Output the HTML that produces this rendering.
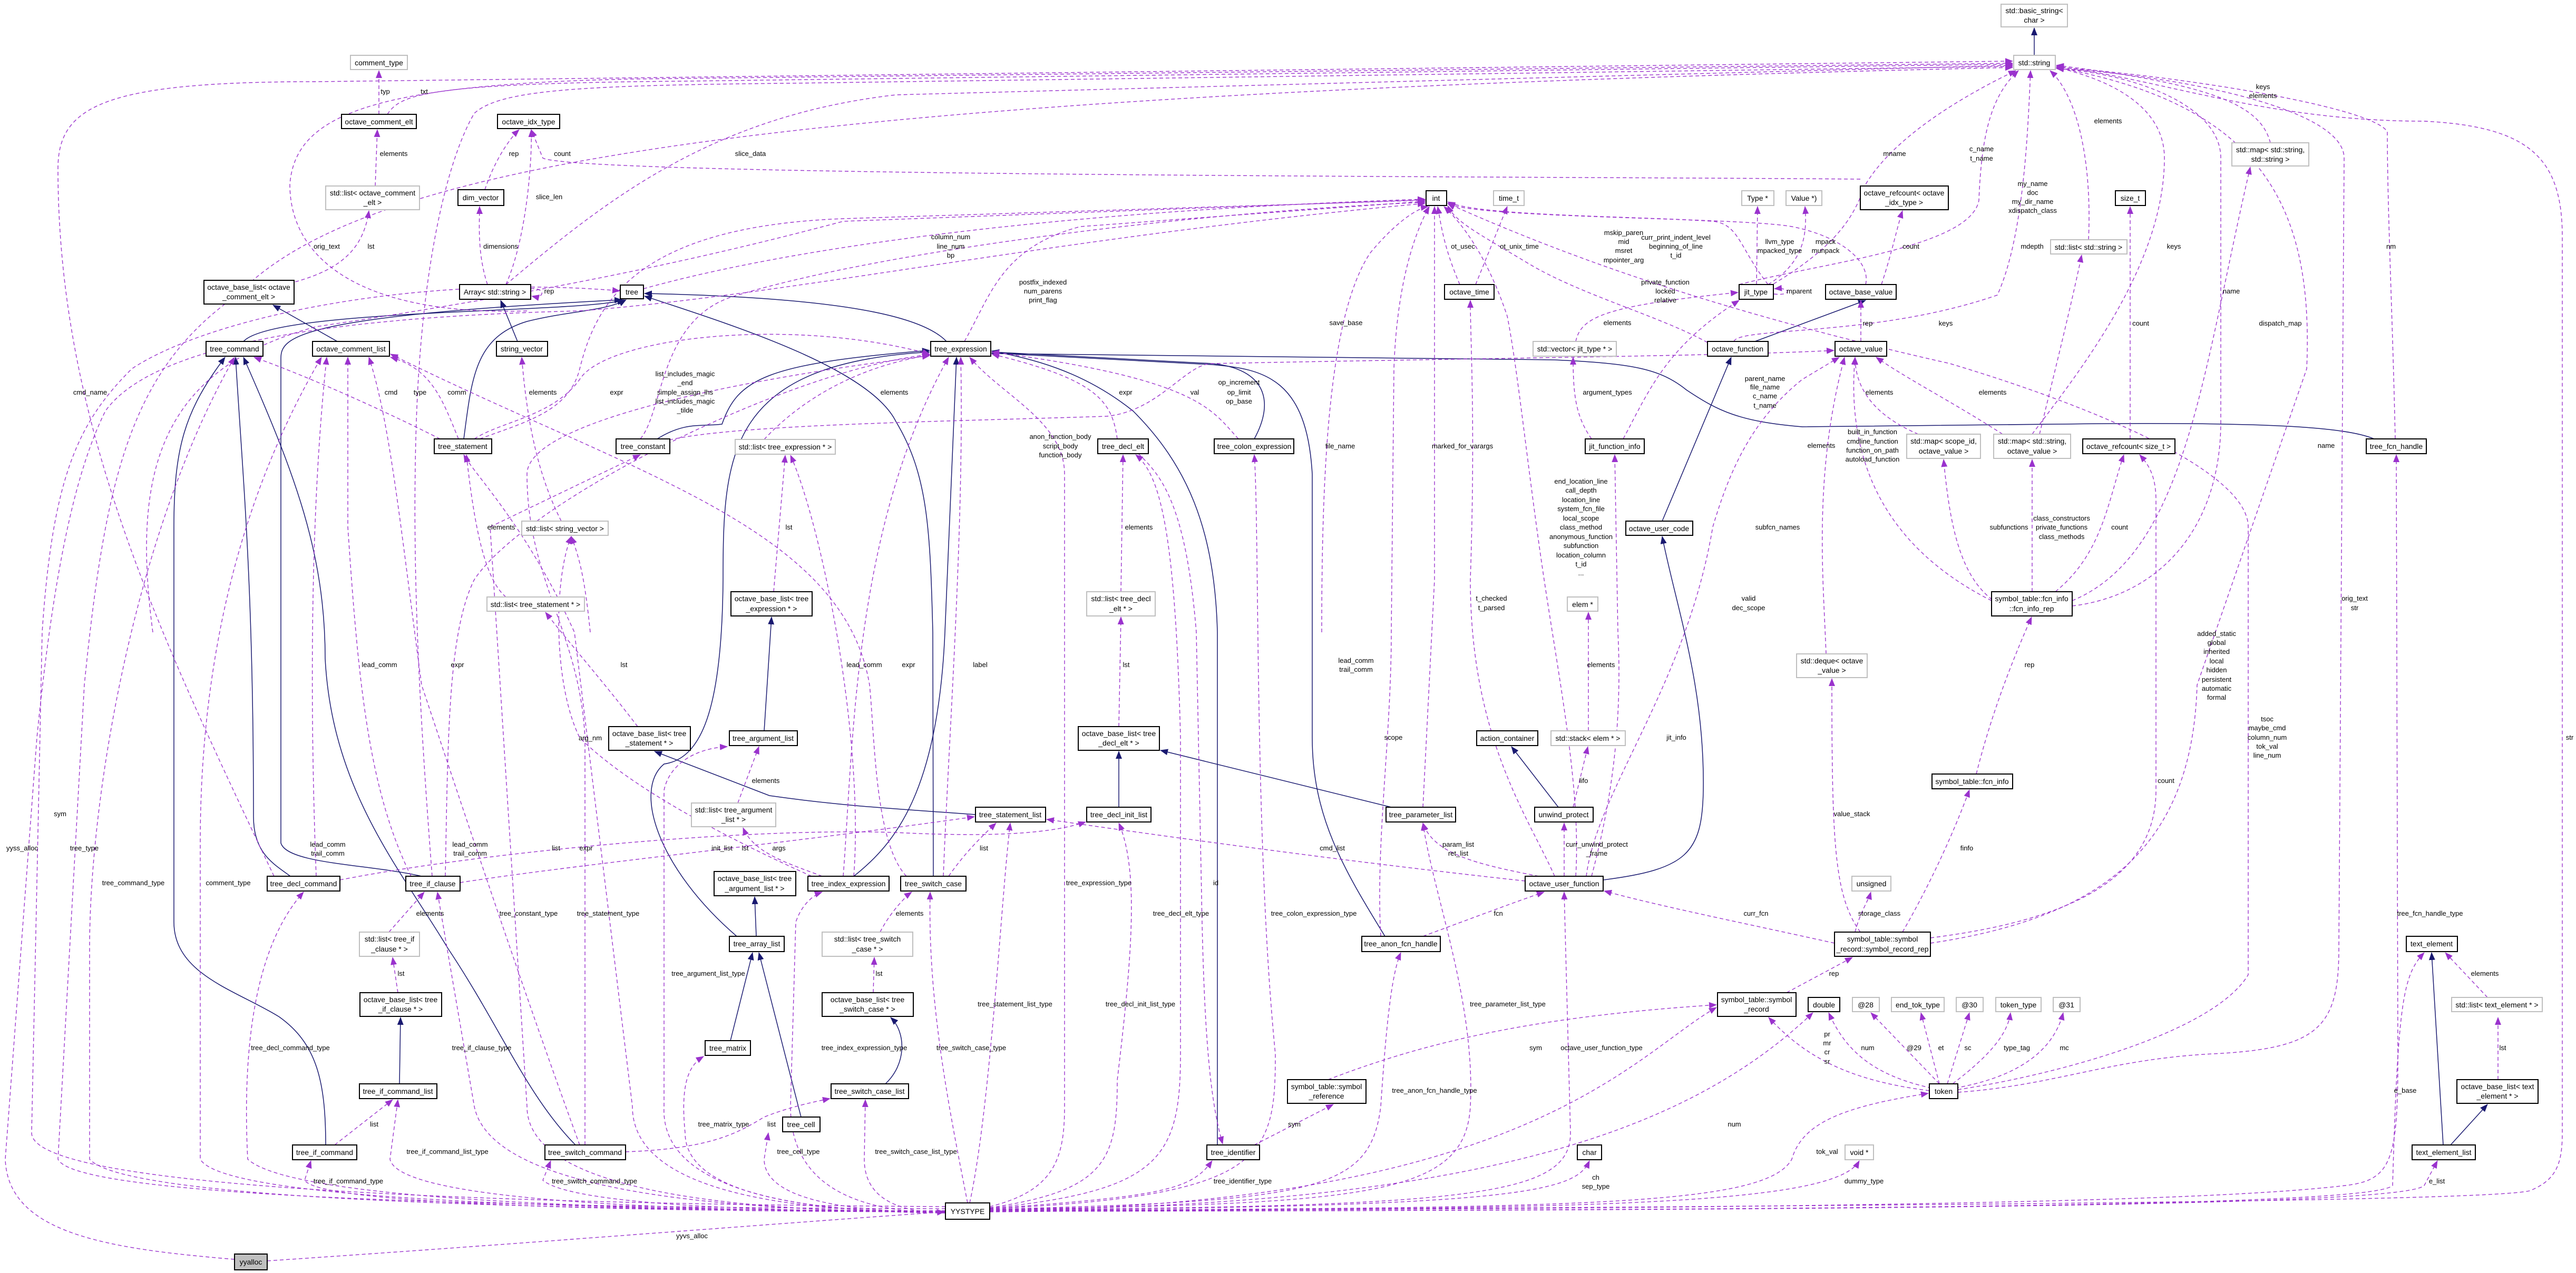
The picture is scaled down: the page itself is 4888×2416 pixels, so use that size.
<!DOCTYPE html>
<html><head><meta charset="utf-8"><style>
html,body{margin:0;padding:0;background:#fff;}
svg{display:block;}
text{font-family:"Liberation Sans",sans-serif;font-size:14px;fill:#000;}
.l{font-size:13px;}
.n{fill:#fff;stroke:#000;stroke-width:2;}
.g{fill:#fff;stroke:#bfbfbf;stroke-width:2;}
.y{fill:#bfbfbf;stroke:#000;stroke-width:2;}
.d{fill:none;stroke:#9a32cd;stroke-width:1.4;stroke-dasharray:7,5;}
.s{fill:none;stroke:#191970;stroke-width:1.5;}
</style></head><body>
<svg width="4888" height="2416" viewBox="0 0 4888 2416" xmlns="http://www.w3.org/2000/svg">
<defs>
<marker id="ap" markerUnits="userSpaceOnUse" markerWidth="16" markerHeight="12" refX="14" refY="6" orient="auto"><path d="M0,0 L15,6 L0,12 z" fill="#9a32cd"/></marker>
<marker id="an" markerUnits="userSpaceOnUse" markerWidth="16" markerHeight="12" refX="14" refY="6" orient="auto"><path d="M0,0 L15,6 L0,12 z" fill="#191970"/></marker>
</defs>

<!-- solid inheritance edges -->
<g class="s" marker-end="url(#an)">
<path d="M3860 105 L3860 53"/>
<path d="M462 648 C520 585 1100 595 1185 569"/>
<path d="M880 833 C895 720 900 640 1000 610 C1080 590 1150 590 1188 569"/>
<path d="M1796 648 C1750 600 1600 565 1223 557"/>
<path d="M1247 833 C1300 800 1330 810 1370 805 C1400 720 1450 690 1764 665"/>
<path d="M640 648 L518 579"/>
<path d="M982 648 L950 570"/>
<path d="M551 1663 C520 1640 481 1620 481 1550 C481 1100 460 900 447 678"/>
<path d="M618 2173 C618 2050 600 1980 530 1930 C450 1880 330 1850 330 1750 L330 1000 C330 850 350 780 427 678"/>
<path d="M1092 2173 C1000 2080 950 1950 850 1800 C760 1650 630 1500 617 1250 C617 1050 560 900 462 678"/>
<path d="M800 1663 C700 1640 545 1640 533 1600 L533 680 C533 640 560 600 1180 569"/>
<path d="M1851 1546 C1700 1535 1600 1530 1460 1510 L1242 1426"/>
<path d="M1450 1387 L1464 1171"/>
<path d="M1435 1777 L1432 1702"/>
<path d="M1386 1975 L1428 1808"/>
<path d="M1520 2120 L1440 1808"/>
<path d="M1398 1777 C1250 1650 1200 1500 1260 1450 C1330 1440 1370 1350 1372 1100 C1372 860 1380 690 1764 668"/>
<path d="M758 2057 L760 1931"/>
<path d="M1680 2057 C1720 2020 1720 1960 1690 1931"/>
<path d="M2123 1532 L2123 1426"/>
<path d="M2640 1532 L2202 1424"/>
<path d="M2957 1532 L2868 1417"/>
<path d="M1771 1663 L1770 1200 C1765 1000 1760 900 1700 800 C1650 700 1400 620 1223 562"/>
<path d="M1620 1663 C1700 1600 1780 1500 1793 1200 L1815 678"/>
<path d="M2310 2173 L2310 1200 C2305 1000 2250 880 2150 780 C2050 700 1950 680 1882 666"/>
<path d="M2380 833 C2420 760 2400 700 2300 690 L1882 668"/>
<path d="M2628 1777 C2550 1650 2490 1550 2490 1400 L2490 900 C2480 720 2400 700 2300 692 L1882 670"/>
<path d="M4505 833 C4450 810 4300 800 3900 805 L3420 810 C3300 800 3260 780 3200 740 C3150 700 3100 690 2950 683 L1882 671"/>
<path d="M3330 648 L3540 570"/>
<path d="M3154 989 L3285 678"/>
<path d="M3042 1670 C3200 1650 3230 1620 3232 1500 C3235 1300 3180 1150 3154 1018"/>
<path d="M4636 2173 L4614 1808"/>
<path d="M4650 2173 L4720 2096"/>
</g>

<!-- dashed collaboration edges -->
<g class="d" marker-end="url(#ap)">
<path d="M719 217 L719 134"/>
<path d="M735 217 C760 180 800 158 1300 154 L3819 122"/>
<path d="M712 353 L716 246"/>
<path d="M560 535 C650 510 690 470 700 400"/>
<path d="M1000 590 C700 600 550 500 550 350 C560 220 700 160 1200 150 L3819 120"/>
<path d="M920 360 C940 300 970 260 985 246"/>
<path d="M3530 340 C3000 335 1100 335 1030 300 L1008 246"/>
<path d="M960 540 C1000 450 1010 300 1008 246"/>
<path d="M925 540 C905 480 910 420 910 392"/>
<path d="M1007 548 C1035 545 1035 568 1009 562"/>
<path d="M960 540 C1150 380 1350 220 1700 180 L3819 124"/>
<path d="M520 1663 C300 1200 110 800 110 320 C110 200 200 155 600 155 L3819 116"/>
<path d="M820 1663 C800 1400 780 1100 790 800 C800 500 850 300 900 215 C950 170 1100 162 1500 158 L3819 126"/>
<path d="M3856 824 C3950 700 4107 500 4107 300 C4107 200 4000 150 3902 128"/>
<path d="M3932 1150 C4100 1130 4214 1000 4214 800 L4214 300 C4214 200 4050 140 3902 130"/>
<path d="M3715 2073 C3900 2060 4000 2010 4200 2000 C4400 1990 4438 1950 4438 1800 L4448 300 C4448 200 4100 140 3902 130"/>
<path d="M3715 2068 C3900 2040 4200 1960 4266 1850 L4266 1000 C4266 900 4000 780 3700 690 C3300 600 3000 500 2747 386"/>
<path d="M3663 1790 C4000 1740 4160 1600 4169 1300 L4377 700 C4390 400 4300 200 3902 128"/>
<path d="M4545 833 C4540 600 4530 400 4530 250 C4500 200 4100 140 3902 128"/>
<path d="M1878 2300 C3000 2290 4700 2285 4800 2260 C4850 2240 4862 2210 4862 2150 L4862 450 C4862 300 4800 240 4600 230 C4300 230 4100 150 3902 126"/>
<path d="M4308 271 C4290 200 4200 160 3902 124"/>
<path d="M3963 455 C3970 300 3940 180 3890 134"/>
<path d="M3300 540 C3450 500 3740 470 3755 380 C3760 250 3780 180 3830 134"/>
<path d="M3290 648 C3300 620 3560 640 3790 560 C3840 450 3848 250 3853 134"/>
<path d="M3355 545 C3500 460 3520 400 3540 350 C3600 250 3750 170 3825 134"/>
<path d="M1221 548 C1500 470 2000 400 2704 378"/>
<path d="M1830 648 C1880 560 1900 470 2050 430 L2704 382"/>
<path d="M910 833 C1000 800 1080 780 1100 700 C1130 580 1200 430 1600 415 L2704 380"/>
<path d="M1215 833 C1260 780 1250 600 1400 560 C1700 470 2300 400 2704 384"/>
<path d="M290 1200 C250 900 300 700 600 620 C1000 560 1300 500 1600 420 L2704 379"/>
<path d="M2508 1200 C2508 900 2520 600 2600 480 C2650 420 2690 395 2710 392"/>
<path d="M2700 1532 L2722 1100 L2722 392"/>
<path d="M2620 1777 C2610 1600 2640 1400 2640 1200 L2645 700 C2650 550 2680 450 2712 392"/>
<path d="M2770 540 C2740 470 2735 430 2728 392"/>
<path d="M2800 540 L2860 392"/>
<path d="M2950 1663 C2900 1550 2790 1400 2790 1100 C2800 800 2790 650 2790 570"/>
<path d="M3020 833 C2990 790 2985 750 2985 678"/>
<path d="M3080 833 C3130 740 3160 660 3300 570"/>
<path d="M3020 1663 C3050 1550 3080 1400 3070 1200 L3064 863"/>
<path d="M2990 648 C3000 600 3050 580 3298 555"/>
<path d="M3355 540 C3300 470 3300 425 3250 420 C3100 410 2800 410 2747 383"/>
<path d="M3540 540 C3550 500 3500 450 3400 430 C3300 412 2800 415 2747 386"/>
<path d="M3240 650 C3150 600 3000 560 2900 500 C2800 440 2760 420 2747 390"/>
<path d="M2990 1663 C3000 1500 2960 1300 2930 1100 C2900 900 2880 700 2860 600 C2820 480 2770 420 2740 392"/>
<path d="M3014 1387 L3014 1162"/>
<path d="M2985 1532 L3013 1417"/>
<path d="M2968 1663 L2968 1562"/>
<path d="M2920 1663 C2800 1640 2720 1620 2700 1562"/>
<path d="M2894 1672 C2600 1640 2300 1600 1986 1555"/>
<path d="M2700 1777 C2800 1740 2880 1710 2930 1693"/>
<path d="M3481 1790 C3300 1750 3150 1720 3044 1691"/>
<path d="M3520 1769 C3530 1730 3545 1710 3550 1693"/>
<path d="M3530 1769 C3480 1700 3476 1600 3476 1288"/>
<path d="M3610 1769 C3650 1700 3700 1600 3737 1499"/>
<path d="M3750 1469 C3780 1350 3820 1250 3855 1171"/>
<path d="M3390 1884 L3515 1817"/>
<path d="M2520 2049 C2700 1980 2900 1930 3257 1907"/>
<path d="M2380 2173 L2530 2096"/>
<path d="M3665 2065 C3550 2040 3500 1990 3470 1922"/>
<path d="M3680 2057 L3550 1922"/>
<path d="M3680 2057 L3645 1922"/>
<path d="M3695 2057 L3737 1922"/>
<path d="M3705 2057 C3780 2000 3810 1960 3815 1922"/>
<path d="M3710 2065 C3850 2040 3900 1980 3915 1922"/>
<path d="M3661 2070 C3500 2050 3420 2000 3356 1931"/>
<path d="M4720 1893 L4640 1808"/>
<path d="M4740 2049 L4740 1931"/>
<path d="M3790 1145 C3720 1100 3700 1000 3688 872"/>
<path d="M3856 1123 L3856 872"/>
<path d="M3900 1123 C3990 1050 4000 950 4030 863"/>
<path d="M3779 1140 C3600 1050 3500 900 3520 678"/>
<path d="M4042 833 L4042 392"/>
<path d="M3932 1140 C4150 1050 4180 700 4270 317"/>
<path d="M3640 824 C3560 790 3520 740 3520 678"/>
<path d="M3800 824 C3700 760 3620 720 3560 678"/>
<path d="M3870 824 C3900 700 3930 580 3950 484"/>
<path d="M3531 648 L3531 570"/>
<path d="M3570 540 C3590 480 3600 430 3610 400"/>
<path d="M3333 540 L3335 392"/>
<path d="M3355 540 C3420 500 3430 450 3425 392"/>
<path d="M3366 558 C3400 562 3400 545 3367 548"/>
<path d="M3465 1241 C3460 1100 3440 900 3500 678"/>
<path d="M3663 1780 C3900 1750 4091 1680 4091 1500 L4091 950 C4091 900 4075 880 4060 863"/>
<path d="M3010 1663 C3030 1500 3200 1300 3250 1000 C3280 900 3320 800 3420 720 L3490 678"/>
<path d="M835 833 C750 790 600 720 482 678"/>
<path d="M870 833 C840 760 820 700 741 678"/>
<path d="M900 833 C950 800 1050 790 1100 720 C1150 640 1500 600 1764 672"/>
<path d="M1065 989 C1020 900 1000 800 990 678"/>
<path d="M1120 1200 C1110 1100 1100 1060 1084 1018"/>
<path d="M960 1133 C920 1100 900 1000 885 863"/>
<path d="M1210 1379 C1150 1300 1080 1220 1035 1162"/>
<path d="M1450 834 C1500 780 1600 700 1764 674"/>
<path d="M1468 1123 L1490 864"/>
<path d="M780 1663 C700 1500 680 1300 660 1000 L660 678"/>
<path d="M600 1663 C590 1400 585 1000 620 678"/>
<path d="M1100 2173 C1000 1900 900 1600 800 1300 C760 1000 740 800 700 678"/>
<path d="M738 1769 L805 1693"/>
<path d="M755 1884 L745 1817"/>
<path d="M635 2173 L745 2087"/>
<path d="M845 1663 C850 1400 850 1200 900 1100 C1000 950 1500 700 1764 673"/>
<path d="M1187 2186 C1350 2180 1400 2150 1450 2120 C1500 2100 1550 2090 1575 2085"/>
<path d="M1110 2173 L1110 1400 C1100 1200 1000 1100 1000 900 C1000 800 1400 720 1764 675"/>
<path d="M1800 1663 C1830 1620 1860 1590 1890 1562"/>
<path d="M1790 1663 C1800 1400 1830 1000 1823 678"/>
<path d="M1720 1663 C1660 1600 1660 1400 1650 1300 C1600 1000 1200 900 741 672"/>
<path d="M1670 1769 C1690 1730 1720 1700 1730 1693"/>
<path d="M1657 1884 L1659 1817"/>
<path d="M1560 1663 C1500 1640 1430 1620 1410 1571"/>
<path d="M1540 1663 C1400 1600 1200 1500 1100 1400 C1050 1300 1050 1100 1084 1018"/>
<path d="M1600 1663 C1620 1400 1620 1000 1800 678"/>
<path d="M1620 1663 C1640 1400 1560 1000 1500 864"/>
<path d="M1400 1524 L1440 1417"/>
<path d="M873 1675 C1100 1640 1500 1600 1849 1550"/>
<path d="M645 1670 C900 1620 1400 1570 1700 1580 C1900 1590 2000 1580 2060 1560"/>
<path d="M2127 1123 L2131 863"/>
<path d="M2123 1379 L2127 1171"/>
<path d="M2120 833 C2110 760 2080 720 1882 672"/>
<path d="M2160 861 C2200 900 2250 950 2270 1200 L2280 1700 C2285 2000 2300 2100 2320 2171"/>
<path d="M2350 833 C2300 780 2280 720 1882 668"/>
<path d="M1270 835 C1400 805 1800 800 2100 790 C2200 780 2250 690 2300 690 C2800 680 3300 675 3480 665"/>
<path d="M445 2390 C200 2370 15 2340 10 2200 L70 1400 C100 1100 140 900 200 780 C300 640 700 600 1100 590 C1500 560 2000 450 2704 386"/>
<path d="M507 2393 C1000 2360 1500 2320 1792 2300"/>
<path d="M1794 2294 Q150 2290 110 2200 L160 1300 C200 900 250 700 450 560 C700 300 1500 180 3819 128"/>
<path d="M1794 2290 Q60 2280 60 2150 L80 1200 C100 900 150 800 250 700 C400 600 800 520 1176 552"/>
<!-- YYSTYPE bundle -->
<path d="M1794 2298 Q253 2296 170 2200 L170 1800 C170 1500 260 1000 445 678"/>
<path d="M1794 2298 Q433 2296 380 2200 L380 1600 C380 1200 480 900 610 678"/>
<path d="M1794 2299 Q576 2297 470 2200 C460 2000 480 1800 576 1693"/>
<path d="M1794 2300 Q616 2298 578 2240 L590 2203"/>
<path d="M1794 2300 Q760 2298 740 2200 L755 2087"/>
<path d="M1794 2300 Q940 2298 900 2100 L830 1693"/>
<path d="M1794 2300 Q1100 2298 1030 2240 L1045 2203"/>
<path d="M1794 2301 Q1000 2299 1000 2100 L930 1000 L1215 863"/>
<path d="M1794 2301 Q1200 2299 1200 2100 L1090 1200 C1000 1000 900 900 880 863"/>
<path d="M1794 2301 Q1300 2299 1300 2150 C1290 2050 1310 2020 1335 2005"/>
<path d="M1794 2301 Q1450 2299 1450 2200 L1458 2150"/>
<path d="M1794 2302 Q1250 2300 1260 2100 L1260 1500 C1270 1450 1320 1420 1380 1417"/>
<path d="M1794 2302 Q1500 2300 1500 2100 L1510 1750 C1520 1720 1540 1700 1560 1693"/>
<path d="M1794 2302 Q1640 2300 1640 2200 L1642 2087"/>
<path d="M1836 2283 C1800 2100 1760 1900 1765 1693"/>
<path d="M1840 2283 C1880 2100 1900 1700 1917 1562"/>
<path d="M1878 2290 C2000 2260 2020 2200 2020 2100 L2020 900 C2020 800 1900 750 1840 678"/>
<path d="M1878 2292 C2100 2260 2120 2200 2120 2050 C2150 1800 2160 1650 2123 1562"/>
<path d="M1878 2293 C2200 2260 2240 2200 2240 2000 L2240 1400 C2230 1000 2200 900 2155 863"/>
<path d="M1878 2294 C2200 2270 2260 2260 2300 2203"/>
<path d="M1878 2294 C2400 2270 2420 2200 2420 2000 C2380 1600 2390 1000 2380 863"/>
<path d="M1878 2295 C2500 2280 2600 2260 2620 2100 C2630 1950 2640 1850 2658 1808"/>
<path d="M1878 2295 C2600 2285 2780 2270 2790 2100 C2800 1900 2720 1700 2700 1562"/>
<path d="M1878 2296 C2800 2290 2980 2270 2980 2150 L2968 1693"/>
<path d="M1878 2296 C2900 2292 2990 2260 3016 2203"/>
<path d="M1878 2296 C2800 2290 3200 2150 3440 1922"/>
<path d="M1878 2297 C2900 2290 3100 2000 3257 1912"/>
<path d="M1878 2297 C3000 2293 3350 2290 3400 2200 C3420 2130 3500 2100 3659 2075"/>
<path d="M1878 2298 C3000 2295 3480 2290 3528 2203"/>
<path d="M1878 2298 C3500 2294 4200 2280 4450 2250 C4540 2240 4550 2200 4550 2000 L4547 863"/>
<path d="M1878 2299 C3500 2296 4500 2290 4540 2250 C4550 1900 4560 1850 4600 1808"/>
<path d="M1878 2299 C3500 2297 4560 2290 4600 2250 L4625 2203"/>
</g>

<!-- nodes -->
<g>
<rect class="g" x="665" y="105" width="108" height="27"/><text x="719" y="124" text-anchor="middle">comment_type</text>
<rect class="n" x="648" y="217" width="142" height="27"/><text x="719" y="236" text-anchor="middle">octave_comment_elt</text>
<rect class="g" x="618" y="353" width="178" height="45"/><text x="707" y="371" text-anchor="middle">std::list&lt; octave_comment</text><text x="707" y="389" text-anchor="middle">_elt &gt;</text>
<rect class="n" x="944" y="217" width="118" height="27"/><text x="1003" y="236" text-anchor="middle">octave_idx_type</text>
<rect class="n" x="869" y="360" width="87" height="30"/><text x="912" y="380" text-anchor="middle">dim_vector</text>
<rect class="n" x="387" y="532" width="171" height="45"/><text x="472" y="550" text-anchor="middle">octave_base_list&lt; octave</text><text x="472" y="568" text-anchor="middle">_comment_elt &gt;</text>
<rect class="n" x="872" y="540" width="135" height="28"/><text x="939" y="559" text-anchor="middle">Array&lt; std::string &gt;</text>
<rect class="n" x="1177" y="541" width="44" height="26"/><text x="1199" y="559" text-anchor="middle">tree</text>
<rect class="n" x="391" y="648" width="108" height="28"/><text x="445" y="667" text-anchor="middle">tree_command</text>
<rect class="n" x="593" y="648" width="146" height="28"/><text x="666" y="667" text-anchor="middle">octave_comment_list</text>
<rect class="n" x="942" y="648" width="97" height="28"/><text x="990" y="667" text-anchor="middle">string_vector</text>
<rect class="n" x="824" y="833" width="109" height="28"/><text x="878" y="852" text-anchor="middle">tree_statement</text>
<rect class="n" x="1169" y="833" width="102" height="28"/><text x="1220" y="852" text-anchor="middle">tree_constant</text>
<rect class="g" x="1395" y="834" width="190" height="28"/><text x="1490" y="853" text-anchor="middle">std::list&lt; tree_expression * &gt;</text>
<rect class="g" x="990" y="989" width="164" height="27"/><text x="1072" y="1008" text-anchor="middle">std::list&lt; string_vector &gt;</text>
<rect class="g" x="924" y="1133" width="185" height="27"/><text x="1016" y="1152" text-anchor="middle">std::list&lt; tree_statement * &gt;</text>
<rect class="n" x="1387" y="1123" width="154" height="46"/><text x="1464" y="1141" text-anchor="middle">octave_base_list&lt; tree</text><text x="1464" y="1160" text-anchor="middle">_expression * &gt;</text>

<rect class="n" x="2706" y="362" width="39" height="28"/><text x="2725" y="381" text-anchor="middle">int</text>
<rect class="g" x="2834" y="362" width="58" height="28"/><text x="2863" y="381" text-anchor="middle">time_t</text>
<rect class="n" x="2741" y="540" width="94" height="28"/><text x="2788" y="559" text-anchor="middle">octave_time</text>
<rect class="n" x="1766" y="648" width="114" height="28"/><text x="1823" y="667" text-anchor="middle">tree_expression</text>
<rect class="g" x="2909" y="648" width="158" height="28"/><text x="2988" y="667" text-anchor="middle">std::vector&lt; jit_type * &gt;</text>
<rect class="n" x="2083" y="833" width="96" height="28"/><text x="2131" y="852" text-anchor="middle">tree_decl_elt</text>
<rect class="n" x="2304" y="833" width="151" height="28"/><text x="2380" y="852" text-anchor="middle">tree_colon_expression</text>
<rect class="n" x="3008" y="833" width="112" height="28"/><text x="3064" y="852" text-anchor="middle">jit_function_info</text>
<rect class="n" x="3085" y="989" width="127" height="27"/><text x="3148" y="1008" text-anchor="middle">octave_user_code</text>
<rect class="g" x="2062" y="1123" width="130" height="46"/><text x="2127" y="1141" text-anchor="middle">std::list&lt; tree_decl</text><text x="2127" y="1160" text-anchor="middle">_elt * &gt;</text>
<rect class="g" x="2974" y="1133" width="58" height="27"/><text x="3003" y="1152" text-anchor="middle">elem *</text>

<rect class="g" x="3797" y="8" width="126" height="43"/><text x="3860" y="25" text-anchor="middle">std::basic_string&lt;</text><text x="3860" y="43" text-anchor="middle">char &gt;</text>
<rect class="g" x="3821" y="105" width="79" height="27"/><text x="3860" y="124" text-anchor="middle">std::string</text>
<rect class="g" x="3305" y="362" width="61" height="28"/><text x="3335" y="381" text-anchor="middle">Type *</text>
<rect class="g" x="3389" y="362" width="68" height="28"/><text x="3423" y="381" text-anchor="middle">Value *)</text>
<rect class="n" x="3530" y="353" width="167" height="45"/><text x="3613" y="371" text-anchor="middle">octave_refcount&lt; octave</text><text x="3613" y="389" text-anchor="middle">_idx_type &gt;</text>
<rect class="n" x="4014" y="362" width="57" height="28"/><text x="4042" y="381" text-anchor="middle">size_t</text>
<rect class="g" x="4235" y="271" width="146" height="44"/><text x="4308" y="289" text-anchor="middle">std::map&lt; std::string,</text><text x="4308" y="307" text-anchor="middle">std::string &gt;</text>
<rect class="g" x="3891" y="455" width="145" height="27"/><text x="3963" y="474" text-anchor="middle">std::list&lt; std::string &gt;</text>
<rect class="n" x="3300" y="540" width="65" height="28"/><text x="3332" y="559" text-anchor="middle">jit_type</text>
<rect class="n" x="3464" y="540" width="134" height="28"/><text x="3531" y="559" text-anchor="middle">octave_base_value</text>
<rect class="n" x="3240" y="648" width="115" height="28"/><text x="3297" y="667" text-anchor="middle">octave_function</text>
<rect class="n" x="3482" y="648" width="98" height="28"/><text x="3531" y="667" text-anchor="middle">octave_value</text>
<rect class="g" x="3618" y="824" width="140" height="46"/><text x="3688" y="842" text-anchor="middle">std::map&lt; scope_id,</text><text x="3688" y="861" text-anchor="middle">octave_value &gt;</text>
<rect class="g" x="3783" y="824" width="146" height="46"/><text x="3856" y="842" text-anchor="middle">std::map&lt; std::string,</text><text x="3856" y="861" text-anchor="middle">octave_value &gt;</text>
<rect class="n" x="3952" y="833" width="175" height="28"/><text x="4039" y="852" text-anchor="middle">octave_refcount&lt; size_t &gt;</text>
<rect class="n" x="4490" y="833" width="114" height="28"/><text x="4547" y="852" text-anchor="middle">tree_fcn_handle</text>
<rect class="n" x="3779" y="1123" width="153" height="46"/><text x="3855" y="1141" text-anchor="middle">symbol_table::fcn_info</text><text x="3855" y="1160" text-anchor="middle">::fcn_info_rep</text>

<rect class="n" x="1155" y="1379" width="155" height="45"/><text x="1232" y="1397" text-anchor="middle">octave_base_list&lt; tree</text><text x="1232" y="1415" text-anchor="middle">_statement * &gt;</text>
<rect class="n" x="1384" y="1387" width="129" height="28"/><text x="1448" y="1406" text-anchor="middle">tree_argument_list</text>
<rect class="g" x="1312" y="1524" width="160" height="45"/><text x="1392" y="1542" text-anchor="middle">std::list&lt; tree_argument</text><text x="1392" y="1560" text-anchor="middle">_list * &gt;</text>
<rect class="n" x="507" y="1663" width="138" height="28"/><text x="576" y="1682" text-anchor="middle">tree_decl_command</text>
<rect class="n" x="770" y="1663" width="103" height="28"/><text x="821" y="1682" text-anchor="middle">tree_if_clause</text>
<rect class="n" x="1355" y="1654" width="155" height="46"/><text x="1432" y="1672" text-anchor="middle">octave_base_list&lt; tree</text><text x="1432" y="1691" text-anchor="middle">_argument_list * &gt;</text>
<rect class="n" x="1533" y="1663" width="154" height="28"/><text x="1610" y="1682" text-anchor="middle">tree_index_expression</text>
<rect class="g" x="682" y="1769" width="114" height="46"/><text x="739" y="1787" text-anchor="middle">std::list&lt; tree_if</text><text x="739" y="1806" text-anchor="middle">_clause * &gt;</text>
<rect class="n" x="1384" y="1777" width="104" height="29"/><text x="1436" y="1796" text-anchor="middle">tree_array_list</text>
<rect class="n" x="683" y="1884" width="155" height="45"/><text x="760" y="1902" text-anchor="middle">octave_base_list&lt; tree</text><text x="760" y="1920" text-anchor="middle">_if_clause * &gt;</text>
<rect class="n" x="1338" y="1975" width="86" height="28"/><text x="1381" y="1994" text-anchor="middle">tree_matrix</text>
<rect class="n" x="682" y="2057" width="147" height="28"/><text x="755" y="2076" text-anchor="middle">tree_if_command_list</text>
<rect class="n" x="1485" y="2120" width="71" height="28"/><text x="1520" y="2139" text-anchor="middle">tree_cell</text>
<rect class="n" x="555" y="2173" width="122" height="28"/><text x="616" y="2192" text-anchor="middle">tree_if_command</text>
<rect class="n" x="1034" y="2173" width="153" height="28"/><text x="1110" y="2192" text-anchor="middle">tree_switch_command</text>
<rect class="y" x="445" y="2380" width="62" height="30"/><text x="476" y="2400" text-anchor="middle">yyalloc</text>

<rect class="n" x="2046" y="1379" width="154" height="45"/><text x="2123" y="1397" text-anchor="middle">octave_base_list&lt; tree</text><text x="2123" y="1415" text-anchor="middle">_decl_elt * &gt;</text>
<rect class="n" x="2802" y="1387" width="116" height="28"/><text x="2860" y="1406" text-anchor="middle">action_container</text>
<rect class="g" x="2943" y="1387" width="141" height="28"/><text x="3013" y="1406" text-anchor="middle">std::stack&lt; elem * &gt;</text>
<rect class="n" x="1851" y="1532" width="133" height="28"/><text x="1917" y="1551" text-anchor="middle">tree_statement_list</text>
<rect class="n" x="2062" y="1532" width="122" height="28"/><text x="2123" y="1551" text-anchor="middle">tree_decl_init_list</text>
<rect class="n" x="2630" y="1532" width="132" height="28"/><text x="2696" y="1551" text-anchor="middle">tree_parameter_list</text>
<rect class="n" x="2912" y="1532" width="111" height="28"/><text x="2967" y="1551" text-anchor="middle">unwind_protect</text>
<rect class="n" x="1709" y="1663" width="124" height="28"/><text x="1771" y="1682" text-anchor="middle">tree_switch_case</text>
<rect class="n" x="2894" y="1663" width="148" height="28"/><text x="2968" y="1682" text-anchor="middle">octave_user_function</text>
<rect class="g" x="1560" y="1769" width="172" height="46"/><text x="1646" y="1787" text-anchor="middle">std::list&lt; tree_switch</text><text x="1646" y="1806" text-anchor="middle">_case * &gt;</text>
<rect class="n" x="2584" y="1777" width="149" height="29"/><text x="2658" y="1796" text-anchor="middle">tree_anon_fcn_handle</text>
<rect class="n" x="1560" y="1884" width="173" height="45"/><text x="1646" y="1902" text-anchor="middle">octave_base_list&lt; tree</text><text x="1646" y="1920" text-anchor="middle">_switch_case * &gt;</text>
<rect class="n" x="1577" y="2057" width="147" height="28"/><text x="1650" y="2076" text-anchor="middle">tree_switch_case_list</text>
<rect class="n" x="2443" y="2049" width="149" height="45"/><text x="2517" y="2067" text-anchor="middle">symbol_table::symbol</text><text x="2517" y="2085" text-anchor="middle">_reference</text>
<rect class="n" x="2290" y="2173" width="100" height="28"/><text x="2340" y="2192" text-anchor="middle">tree_identifier</text>
<rect class="n" x="2993" y="2173" width="46" height="28"/><text x="3016" y="2192" text-anchor="middle">char</text>
<rect class="n" x="1794" y="2283" width="84" height="31"/><text x="1836" y="2304" text-anchor="middle">YYSTYPE</text>

<rect class="g" x="3409" y="1241" width="134" height="45"/><text x="3476" y="1259" text-anchor="middle">std::deque&lt; octave</text><text x="3476" y="1277" text-anchor="middle">_value &gt;</text>
<rect class="n" x="3666" y="1469" width="153" height="28"/><text x="3742" y="1488" text-anchor="middle">symbol_table::fcn_info</text>
<rect class="g" x="3514" y="1663" width="74" height="28"/><text x="3551" y="1682" text-anchor="middle">unsigned</text>
<rect class="n" x="3481" y="1769" width="182" height="46"/><text x="3572" y="1787" text-anchor="middle">symbol_table::symbol</text><text x="3572" y="1806" text-anchor="middle">_record::symbol_record_rep</text>
<rect class="n" x="4566" y="1777" width="97" height="29"/><text x="4614" y="1796" text-anchor="middle">text_element</text>
<rect class="n" x="3259" y="1884" width="149" height="45"/><text x="3333" y="1902" text-anchor="middle">symbol_table::symbol</text><text x="3333" y="1920" text-anchor="middle">_record</text>
<rect class="n" x="3431" y="1893" width="60" height="27"/><text x="3461" y="1912" text-anchor="middle">double</text>
<rect class="g" x="3515" y="1893" width="51" height="27"/><text x="3540" y="1912" text-anchor="middle">@28</text>
<rect class="g" x="3589" y="1893" width="100" height="27"/><text x="3639" y="1912" text-anchor="middle">end_tok_type</text>
<rect class="g" x="3712" y="1893" width="51" height="27"/><text x="3737" y="1912" text-anchor="middle">@30</text>
<rect class="g" x="3787" y="1893" width="86" height="27"/><text x="3830" y="1912" text-anchor="middle">token_type</text>
<rect class="g" x="3896" y="1893" width="51" height="27"/><text x="3921" y="1912" text-anchor="middle">@31</text>
<rect class="g" x="4652" y="1893" width="172" height="27"/><text x="4738" y="1912" text-anchor="middle">std::list&lt; text_element * &gt;</text>
<rect class="n" x="3661" y="2057" width="54" height="28"/><text x="3688" y="2076" text-anchor="middle">token</text>
<rect class="n" x="4662" y="2049" width="154" height="45"/><text x="4739" y="2067" text-anchor="middle">octave_base_list&lt; text</text><text x="4739" y="2085" text-anchor="middle">_element * &gt;</text>
<rect class="g" x="3501" y="2173" width="54" height="28"/><text x="3528" y="2192" text-anchor="middle">void *</text>
<rect class="n" x="4577" y="2173" width="120" height="28"/><text x="4637" y="2192" text-anchor="middle">text_element_list</text>
</g>

<!-- edge labels -->
<g class="l" text-anchor="middle">
<text x="731" y="178" class="l">typ</text><text x="805" y="178" class="l">txt</text>
<text x="747" y="296" class="l">elements</text><text x="975" y="296" class="l">rep</text><text x="1067" y="296" class="l">count</text><text x="1424" y="296" class="l">slice_data</text>
<text x="620" y="472" class="l">orig_text</text><text x="704" y="472" class="l">lst</text><text x="950" y="472" class="l">dimensions</text><text x="1042" y="378" class="l">slice_len</text><text x="1042" y="557" class="l">rep</text>
<text x="171" y="749" class="l">cmd_name</text><text x="742" y="749" class="l">cmd</text><text x="797" y="749" class="l">type</text><text x="867" y="749" class="l">comm</text><text x="1030" y="749" class="l">elements</text><text x="1170" y="749" class="l">expr</text>
<text x="1300" y="714" class="l">list_includes_magic</text><text x="1300" y="731" class="l">_end</text><text x="1300" y="749" class="l">simple_assign_lhs</text><text x="1300" y="766" class="l">list_includes_magic</text><text x="1300" y="783" class="l">_tilde</text>
<text x="951" y="1005" class="l">elements</text><text x="1497" y="1005" class="l">lst</text>
<text x="1804" y="454" class="l">column_num</text><text x="1804" y="472" class="l">line_num</text><text x="1804" y="489" class="l">bp</text>
<text x="1979" y="540" class="l">postfix_indexed</text><text x="1979" y="557" class="l">num_parens</text><text x="1979" y="574" class="l">print_flag</text>
<text x="2554" y="617" class="l">save_base</text><text x="2776" y="472" class="l">ot_usec</text><text x="2883" y="472" class="l">ot_unix_time</text>
<text x="3081" y="446" class="l">mskip_paren</text><text x="3081" y="463" class="l">mid</text><text x="3081" y="480" class="l">msret</text><text x="3081" y="498" class="l">mpointer_arg</text>
<text x="3160" y="540" class="l">private_function</text><text x="3160" y="557" class="l">locked</text><text x="3160" y="574" class="l">relative</text>
<text x="3180" y="455" class="l">curr_print_indent_level</text><text x="3180" y="472" class="l">beginning_of_line</text><text x="3180" y="489" class="l">t_id</text>
<text x="3069" y="617" class="l">elements</text><text x="1697" y="749" class="l">elements</text><text x="2136" y="749" class="l">expr</text><text x="2267" y="749" class="l">val</text>
<text x="2351" y="730" class="l">op_increment</text><text x="2351" y="749" class="l">op_limit</text><text x="2351" y="766" class="l">op_base</text>
<text x="3050" y="749" class="l">argument_types</text>
<text x="2012" y="833" class="l">anon_function_body</text><text x="2012" y="851" class="l">script_body</text><text x="2012" y="868" class="l">function_body</text>
<text x="2543" y="851" class="l">file_name</text><text x="2775" y="851" class="l">marked_for_varargs</text>
<text x="3000" y="918" class="l">end_location_line</text><text x="3000" y="935" class="l">call_depth</text><text x="3000" y="953" class="l">location_line</text><text x="3000" y="970" class="l">system_fcn_file</text><text x="3000" y="988" class="l">local_scope</text><text x="3000" y="1005" class="l">class_method</text><text x="3000" y="1023" class="l">anonymous_function</text><text x="3000" y="1040" class="l">subfunction</text><text x="3000" y="1058" class="l">location_column</text><text x="3000" y="1075" class="l">t_id</text><text x="3000" y="1092" class="l">...</text>
<text x="2161" y="1005" class="l">elements</text><text x="2830" y="1140" class="l">t_checked</text><text x="2830" y="1158" class="l">t_parsed</text>
<text x="3595" y="296" class="l">mname</text><text x="3760" y="287" class="l">c_name</text><text x="3760" y="305" class="l">t_name</text>
<text x="3857" y="353" class="l">my_name</text><text x="3857" y="370" class="l">doc</text><text x="3857" y="387" class="l">my_dir_name</text><text x="3857" y="404" class="l">xdispatch_class</text>
<text x="4000" y="234" class="l">elements</text><text x="4294" y="169" class="l">keys</text><text x="4294" y="186" class="l">elements</text>
<text x="3377" y="463" class="l">llvm_type</text><text x="3377" y="480" class="l">mpacked_type</text><text x="3464" y="463" class="l">mpack</text><text x="3464" y="480" class="l">munpack</text>
<text x="3626" y="472" class="l">count</text><text x="3856" y="472" class="l">mdepth</text><text x="4125" y="472" class="l">keys</text><text x="4537" y="472" class="l">nm</text>
<text x="3414" y="557" class="l">mparent</text><text x="4234" y="557" class="l">name</text><text x="3544" y="618" class="l">rep</text><text x="3692" y="618" class="l">keys</text><text x="4062" y="618" class="l">count</text><text x="4327" y="618" class="l">dispatch_map</text>
<text x="3349" y="723" class="l">parent_name</text><text x="3349" y="739" class="l">file_name</text><text x="3349" y="756" class="l">c_name</text><text x="3349" y="774" class="l">t_name</text>
<text x="3566" y="749" class="l">elements</text><text x="3781" y="749" class="l">elements</text>
<text x="3553" y="824" class="l">built_in_function</text><text x="3553" y="842" class="l">cmdline_function</text><text x="3553" y="859" class="l">function_on_path</text><text x="3553" y="876" class="l">autoload_function</text>
<text x="3456" y="850" class="l">elements</text><text x="4414" y="850" class="l">name</text>
<text x="3373" y="1005" class="l">subfcn_names</text><text x="3812" y="1005" class="l">subfunctions</text>
<text x="3912" y="988" class="l">class_constructors</text><text x="3912" y="1005" class="l">private_functions</text><text x="3912" y="1023" class="l">class_methods</text>
<text x="4022" y="1005" class="l">count</text><text x="3318" y="1140" class="l">valid</text><text x="3318" y="1158" class="l">dec_scope</text>
<text x="4468" y="1140" class="l">orig_text</text><text x="4468" y="1158" class="l">str</text>
<text x="720" y="1266" class="l">lead_comm</text><text x="868" y="1266" class="l">expr</text><text x="1184" y="1266" class="l">lst</text><text x="1120" y="1405" class="l">arg_nm</text><text x="1453" y="1486" class="l">elements</text>
<text x="114" y="1549" class="l">sym</text><text x="42" y="1614" class="l">yyss_alloc</text><text x="160" y="1614" class="l">tree_type</text>
<text x="622" y="1607" class="l">lead_comm</text><text x="622" y="1624" class="l">trail_comm</text><text x="892" y="1607" class="l">lead_comm</text><text x="892" y="1624" class="l">trail_comm</text>
<text x="1055" y="1614" class="l">list</text><text x="1112" y="1614" class="l">expr</text><text x="1370" y="1614" class="l">init_list</text><text x="1414" y="1614" class="l">lst</text><text x="1478" y="1614" class="l">args</text>
<text x="253" y="1680" class="l">tree_command_type</text><text x="433" y="1680" class="l">comment_type</text><text x="816" y="1738" class="l">elements</text><text x="1003" y="1738" class="l">tree_constant_type</text><text x="1154" y="1738" class="l">tree_statement_type</text>
<text x="761" y="1852" class="l">lst</text><text x="1344" y="1852" class="l">tree_argument_list_type</text>
<text x="551" y="1993" class="l">tree_decl_command_type</text><text x="914" y="1993" class="l">tree_if_clause_type</text><text x="1640" y="1993" class="l">tree_index_expression_type</text>
<text x="710" y="2138" class="l">list</text><text x="1373" y="2138" class="l">tree_matrix_type</text><text x="1464" y="2138" class="l">list</text>
<text x="849" y="2190" class="l">tree_if_command_list_type</text><text x="1515" y="2190" class="l">tree_cell_type</text>
<text x="661" y="2246" class="l">tree_if_command_type</text><text x="1128" y="2246" class="l">tree_switch_command_type</text><text x="1313" y="2350" class="l">yyvs_alloc</text>
<text x="1640" y="1266" class="l">lead_comm</text><text x="1724" y="1266" class="l">expr</text><text x="1860" y="1266" class="l">label</text><text x="2137" y="1266" class="l">lst</text>
<text x="2573" y="1258" class="l">lead_comm</text><text x="2573" y="1275" class="l">trail_comm</text><text x="3038" y="1266" class="l">elements</text>
<text x="2644" y="1404" class="l">scope</text><text x="3005" y="1486" class="l">lifo</text><text x="3181" y="1404" class="l">jit_info</text>
<text x="1867" y="1614" class="l">list</text><text x="2528" y="1614" class="l">cmd_list</text><text x="2767" y="1607" class="l">param_list</text><text x="2767" y="1624" class="l">ret_list</text>
<text x="3030" y="1607" class="l">curr_unwind_protect</text><text x="3030" y="1624" class="l">_frame</text>
<text x="2085" y="1680" class="l">tree_expression_type</text><text x="2307" y="1680" class="l">id</text>
<text x="1726" y="1738" class="l">elements</text><text x="2241" y="1738" class="l">tree_decl_elt_type</text><text x="2493" y="1738" class="l">tree_colon_expression_type</text><text x="2843" y="1738" class="l">fcn</text>
<text x="1668" y="1852" class="l">lst</text><text x="1926" y="1910" class="l">tree_statement_list_type</text><text x="2164" y="1910" class="l">tree_decl_init_list_type</text><text x="2861" y="1910" class="l">tree_parameter_list_type</text>
<text x="1843" y="1993" class="l">tree_switch_case_type</text><text x="2914" y="1993" class="l">sym</text><text x="3039" y="1993" class="l">octave_user_function_type</text>
<text x="2722" y="2074" class="l">tree_anon_fcn_handle_type</text><text x="2456" y="2138" class="l">sym</text><text x="1738" y="2190" class="l">tree_switch_case_list_type</text>
<text x="2358" y="2246" class="l">tree_identifier_type</text><text x="3028" y="2239" class="l">ch</text><text x="3028" y="2256" class="l">sep_type</text>
<text x="3851" y="1266" class="l">rep</text>
<text x="4206" y="1207" class="l">added_static</text><text x="4206" y="1224" class="l">global</text><text x="4206" y="1241" class="l">inherited</text><text x="4206" y="1259" class="l">local</text><text x="4206" y="1276" class="l">hidden</text><text x="4206" y="1294" class="l">persistent</text><text x="4206" y="1311" class="l">automatic</text><text x="4206" y="1328" class="l">formal</text>
<text x="4302" y="1369" class="l">tsoc</text><text x="4302" y="1386" class="l">maybe_cmd</text><text x="4302" y="1404" class="l">column_num</text><text x="4302" y="1421" class="l">tok_val</text><text x="4302" y="1438" class="l">line_num</text>
<text x="4110" y="1486" class="l">count</text><text x="3514" y="1549" class="l">value_stack</text><text x="3732" y="1614" class="l">finfo</text>
<text x="3566" y="1738" class="l">storage_class</text><text x="3332" y="1738" class="l">curr_fcn</text><text x="4611" y="1738" class="l">tree_fcn_handle_type</text>
<text x="3480" y="1852" class="l">rep</text><text x="4715" y="1852" class="l">elements</text>
<text x="3467" y="1967" class="l">pr</text><text x="3467" y="1984" class="l">mr</text><text x="3467" y="2001" class="l">cr</text><text x="3467" y="2019" class="l">sr</text>
<text x="3544" y="1993" class="l">num</text><text x="3632" y="1993" class="l">@29</text><text x="3683" y="1993" class="l">et</text><text x="3734" y="1993" class="l">sc</text><text x="3827" y="1993" class="l">type_tag</text><text x="3917" y="1993" class="l">mc</text><text x="4749" y="1993" class="l">lst</text>
<text x="4564" y="2074" class="l">e_base</text><text x="3291" y="2138" class="l">num</text><text x="3467" y="2190" class="l">tok_val</text><text x="3537" y="2246" class="l">dummy_type</text><text x="4624" y="2246" class="l">e_list</text><text x="4876" y="1404" class="l">str</text>
</g>
</svg>
</body></html>
